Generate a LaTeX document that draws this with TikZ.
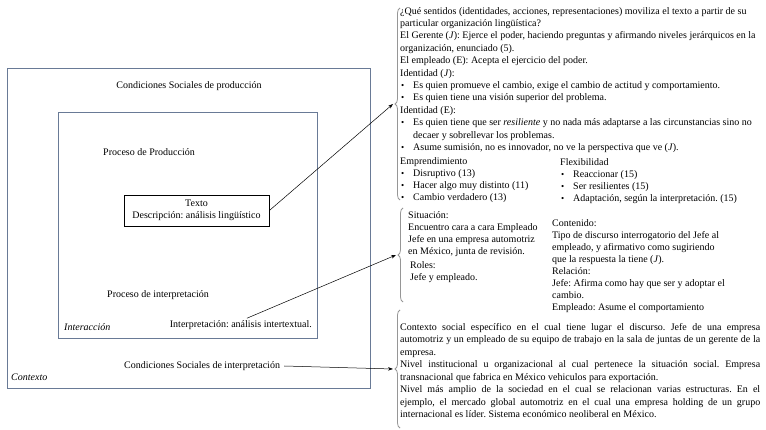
\documentclass[tikz,border=0pt]{standalone}
\usepackage{fontspec}
\setmainfont{Liberation Serif}
\usetikzlibrary{decorations.pathreplacing,arrows.meta}
\definecolor{boxc}{RGB}{105,122,150}
\definecolor{bracec}{RGB}{150,150,150}
\newcommand\bu{\makebox[13pt][l]{\hspace{1pt}{\small\textbullet}}}
\newcommand\ind{\hspace*{13pt}}
\newcommand\jl[1]{\makebox[360pt][s]{#1}}
\frenchspacing
\begin{document}
\begin{tikzpicture}[x=1pt,y=-1pt,
  txt/.style={inner sep=0pt, font=\fontsize{10}{12}\selectfont, align=left},
  frame/.style={draw=boxc, line width=0.9pt, inner sep=0pt},
  arr/.style={-{Stealth[length=5pt,width=3.5pt]}, line width=0.5pt},
  brc/.style={draw=bracec, line width=0.8pt, decorate, decoration={brace, amplitude=5pt}}]
\useasboundingbox (0,0) rectangle (766,430);
% left diagram
\node[frame, minimum width=363pt, minimum height=320pt] (outer) at (188.5,228) {};
\node[frame, minimum width=259pt, minimum height=226pt] (inner) at (187.5,225) {};
\node[txt, anchor=center] (condprod) at (189,86) {Condiciones Sociales de producción};
\node[txt, anchor=west] (procprod) at (103,152) {Proceso de Producción};
\node[draw, line width=0.8pt, minimum width=145pt, minimum height=31pt, inner sep=0pt,
      font=\fontsize{10}{12}\selectfont, align=center] (texto) at (196.5,210.5)
      {Texto\\Descripción: análisis lingüístico};
\node[txt, anchor=west] (procint) at (107,295) {Proceso de interpretación};
\node[txt, anchor=west] (interac) at (64,327) {\textit{Interacción}};
\node[txt, anchor=east] (interp) at (312,325) {Interpretación: análisis intertextual.};
\node[txt, anchor=west] (condint) at (124,366) {Condiciones Sociales de interpretación};
\node[txt, anchor=west] (contexto) at (11,377) {\textit{Contexto}};
% braces
\draw[brc] (400,200) -- (400,8);
\draw[brc] (403,302) -- (403,208);
\draw[brc] (400,428) -- (400,310);
\coordinate (t1) at (393,104);
\coordinate (t2) at (396,255);
\coordinate (t3) at (393,369);
% arrows
\draw[arr] (texto.east) -- (t1);
\draw[arr] ([xshift=6pt,yshift=2pt]interp.north) -- (t2);
\draw[arr] ([xshift=4pt]condint.east) -- (t3);
% block 1
\node[txt, anchor=north west, font=\fontsize{10}{12.4}\selectfont] (b1) at (400,7) {%
¿Qué sentidos (identidades, acciones, representaciones) moviliza el texto a partir de su\\
particular organización lingüística?\\
El Gerente (\textit{J}): Ejerce el poder, haciendo preguntas y afirmando niveles jerárquicos en la\\
organización, enunciado (5).\\
El empleado (E): Acepta el ejercicio del poder.\\
Identidad (\textit{J}):\\
\bu Es quien promueve el cambio, exige el cambio de actitud y comportamiento.\\
\bu Es quien tiene una visión superior del problema.\\
Identidad (E):\\
\bu Es quien tiene que ser \textit{resiliente} y no nada más adaptarse a las circunstancias sino no\\
\ind decaer y sobrellevar los problemas.\\
\bu Asume sumisión, no es innovador, no ve la perspectiva que ve (\textit{J}).};
\node[txt, anchor=north west] (empr) at (400,157) {%
Emprendimiento\\
\bu Disruptivo (13)\\
\bu Hacer algo muy distinto (11)\\
\bu Cambio verdadero (13)};
\node[txt, anchor=north west] (flex) at (560,158) {%
Flexibilidad\\
\bu Reaccionar (15)\\
\bu Ser resilientes (15)\\
\bu Adaptación, según la interpretación. (15)};
% block 2
\node[txt, anchor=north west] (sit) at (408,211) {%
Situación:\\
Encuentro cara a cara Empleado\\
Jefe en una empresa automotriz\\
en México, junta de revisión.};
\node[txt, anchor=north west] (roles) at (410,261) {%
Roles:\\
Jefe y empleado.};
\node[txt, anchor=north west] (cont) at (552,219) {%
Contenido:\\
Tipo de discurso interrogatorio del Jefe al\\
empleado, y afirmativo como sugiriendo\\
que la respuesta la tiene (\textit{J}).\\
Relación:\\
Jefe: Afirma como hay que ser y adoptar el\\
cambio.\\
Empleado: Asume el comportamiento};
% block 3
\node[txt, anchor=north west, font=\fontsize{10}{12.5}\selectfont] (ctx) at (400,323) {%
\jl{Contexto social específico en el cual tiene lugar el discurso. Jefe de una empresa}\\
\jl{automotriz y un empleado de su equipo de trabajo en la sala de juntas de un gerente de la}\\
empresa.\\
\jl{Nivel institucional u organizacional al cual pertenece la situación social. Empresa}\\
transnacional que fabrica en México vehiculos para exportación.\\
\jl{Nivel más amplio de la sociedad en el cual se relacionan varias estructuras. En el}\\
\jl{ejemplo, el mercado global automotriz en el cual una empresa holding de un grupo}\\
internacional es líder. Sistema económico neoliberal en México.};
\end{tikzpicture}
\end{document}
